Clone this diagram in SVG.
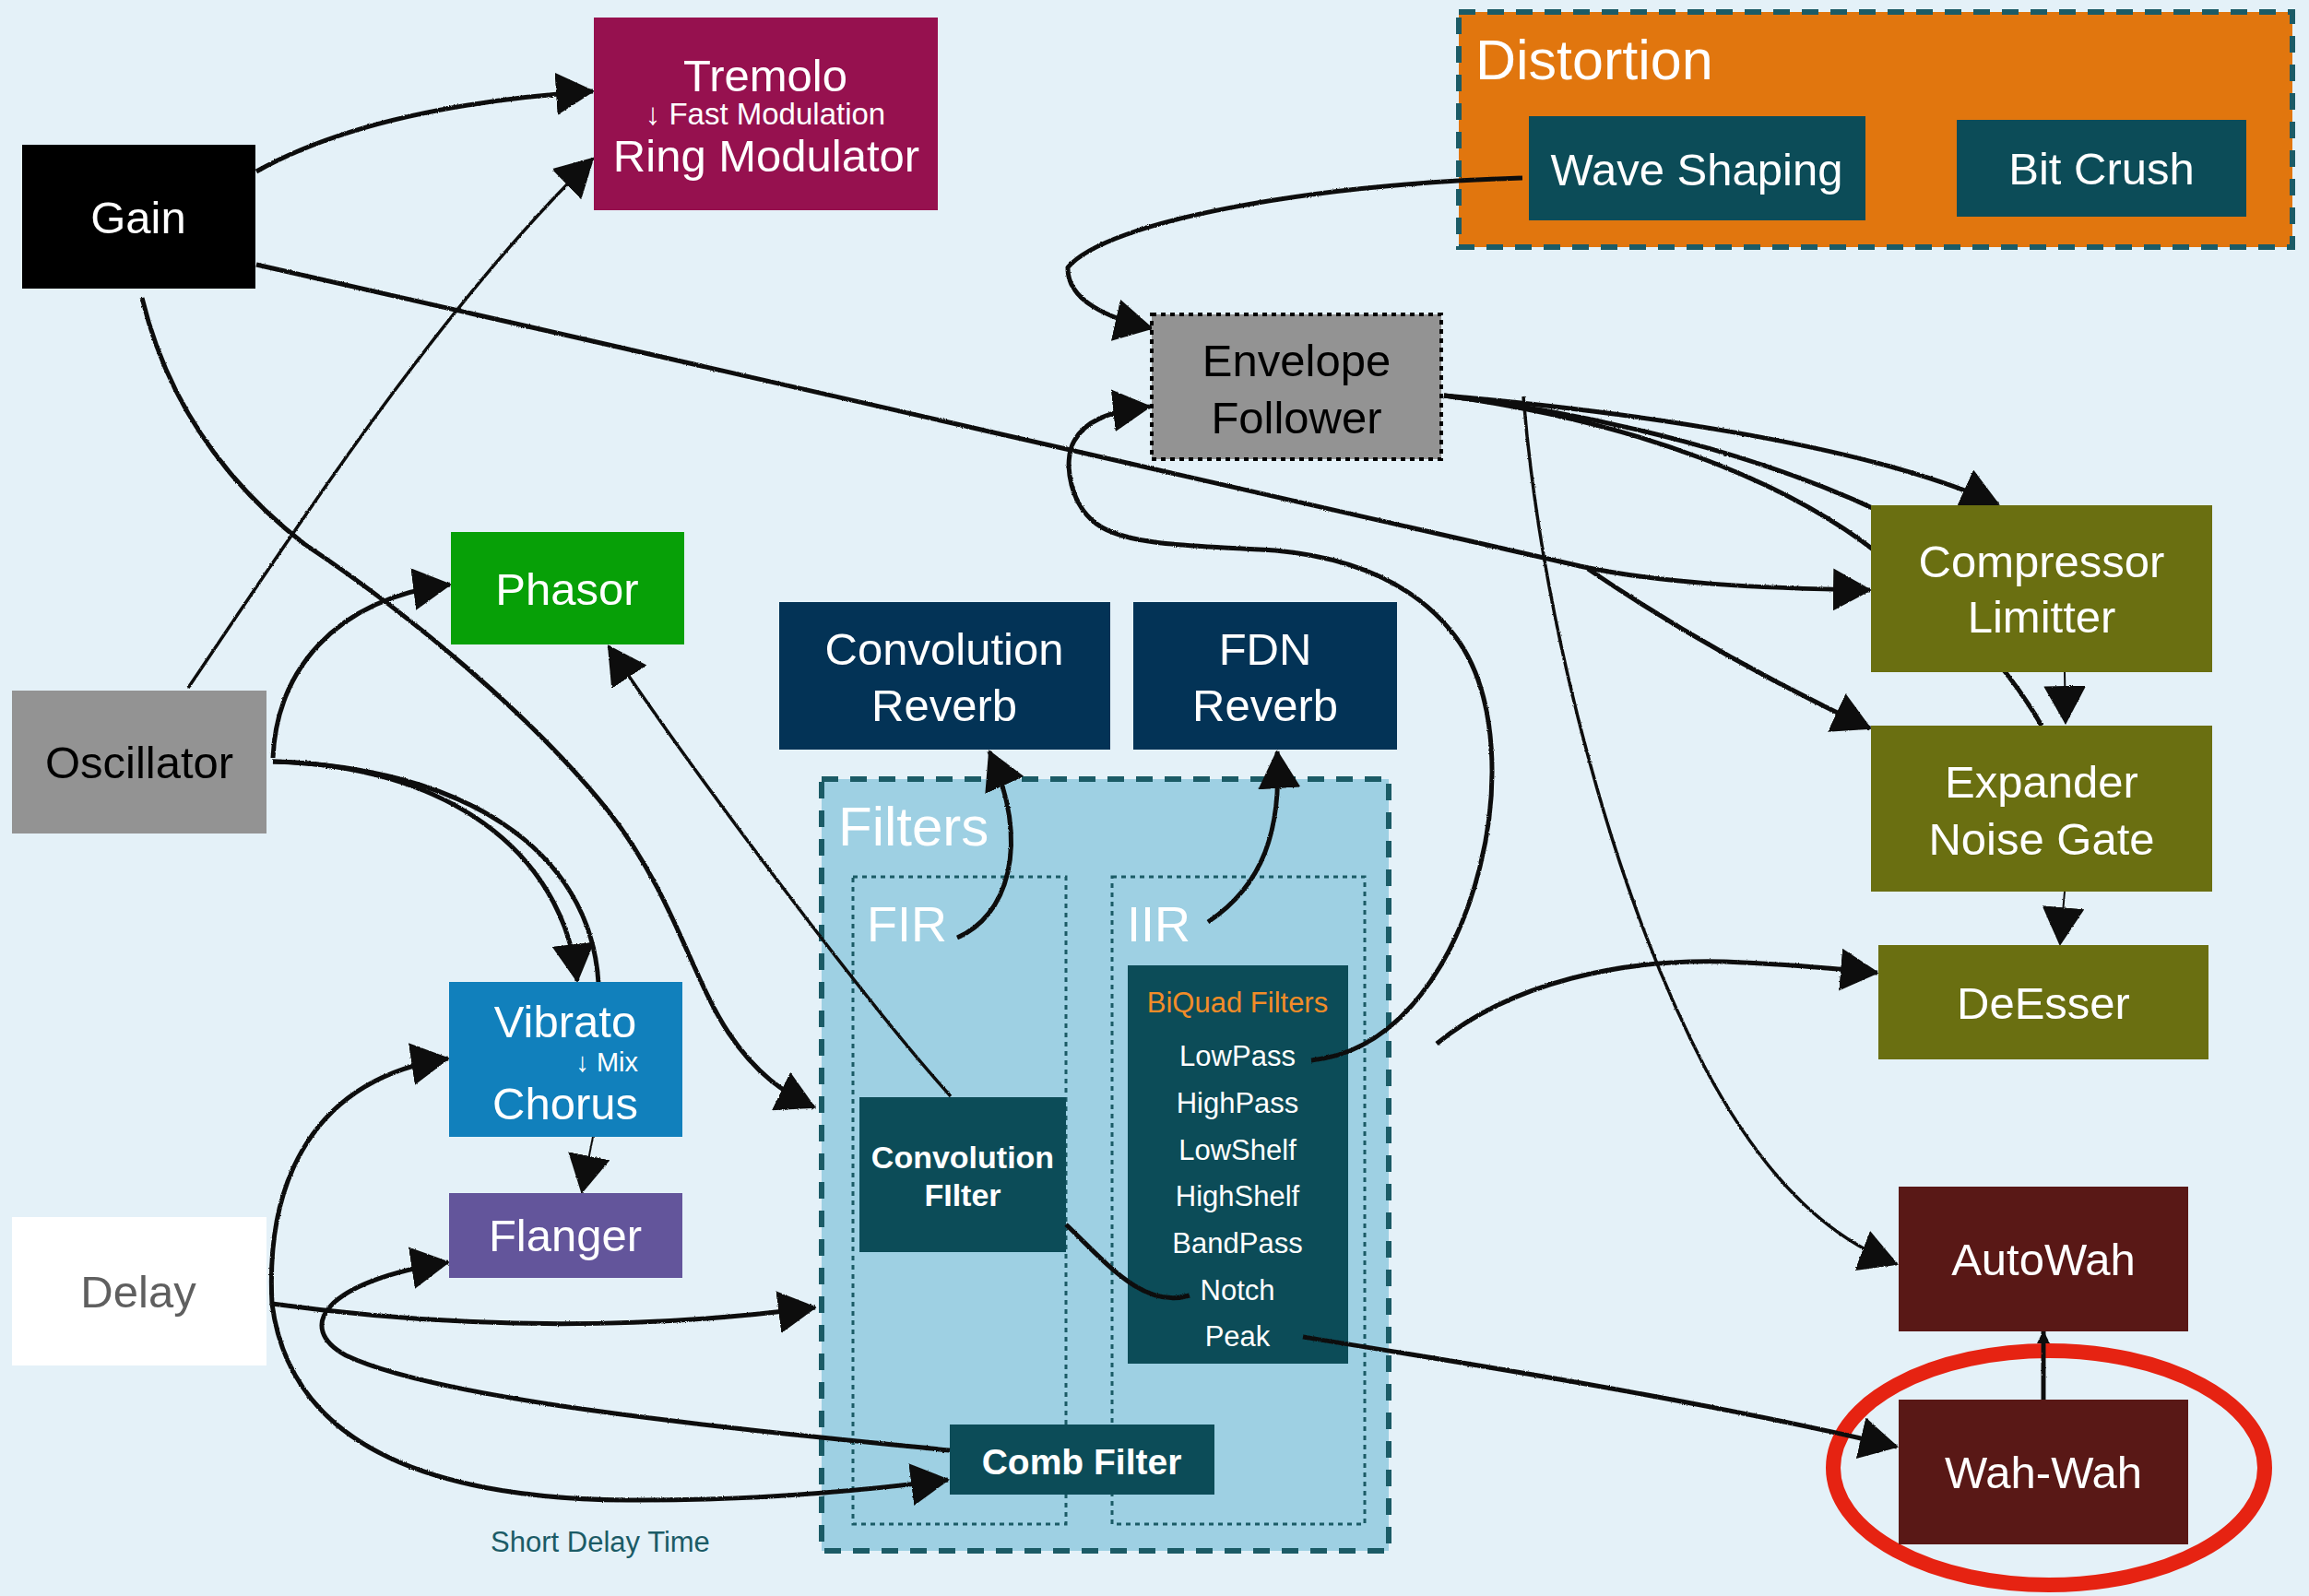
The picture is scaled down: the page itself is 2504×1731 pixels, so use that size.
<svg xmlns="http://www.w3.org/2000/svg" width="2504" height="1731" viewBox="0 0 2504 1731">
<style>
.t{font-family:"Liberation Sans",Arial,Helvetica,sans-serif;font-size:49px;fill:#fff;text-anchor:middle}
.k{fill:#000}
.s{font-size:31px}
.b{font-weight:bold}
.e{fill:none;stroke:#111;stroke-width:5;stroke-linecap:butt;stroke-linejoin:round}
.th{stroke-width:2}
.m{stroke-width:3.5}
.clus{stroke:#1B5B66;stroke-width:6;stroke-dasharray:18 13}
.sub{fill:none;stroke:#1B5B66;stroke-width:3;stroke-dasharray:5 5}
</style>
<defs>
<marker id="ah" markerUnits="userSpaceOnUse" markerWidth="42" markerHeight="46" viewBox="0 0 42 46" refX="40" refY="23" orient="auto">
<path d="M0,0 L42,23 L0,46 Z" fill="#111"/>
</marker>
<marker id="as" markerUnits="userSpaceOnUse" markerWidth="14" markerHeight="14" viewBox="0 0 14 14" refX="13" refY="7" orient="auto">
<path d="M0,0 L14,7 L0,14 Z" fill="#111"/>
</marker>
<filter id="rough" filterUnits="userSpaceOnUse" x="0" y="0" width="2504" height="1731">
<feTurbulence type="fractalNoise" baseFrequency="0.9" numOctaves="1" seed="3" result="n"/>
<feDisplacementMap in="SourceGraphic" in2="n" scale="2.5" xChannelSelector="R" yChannelSelector="G"/>
</filter>
</defs>
<rect x="0" y="0" width="2504" height="1731" fill="#E4F1F8"/>

<g id="cluster-distortion">
<rect class="clus" x="1582" y="13" width="904" height="255" fill="#E1760E"/>
<text class="t" x="1600" y="86" style="font-size:61px;text-anchor:start">Distortion</text>
</g>
<g id="node-waveshaping">
<rect x="1658" y="126" width="365" height="113" fill="#0C4C58"/>
<text class="t" x="1840" y="201">Wave Shaping</text>
</g>
<g id="node-bitcrush">
<rect x="2122" y="130" width="314" height="105" fill="#0C4C58"/>
<text class="t" x="2279" y="200">Bit Crush</text>
</g>

<g id="cluster-filters">
<rect class="clus" x="891" y="845" width="615" height="837" fill="#9ED0E3"/>
<text class="t" x="909" y="917" style="font-size:60px;text-anchor:start">Filters</text>
</g>
<g id="cluster-fir">
<rect class="sub" x="925" y="951" width="231" height="702"/>
<text class="t" x="940" y="1021" style="font-size:54px;text-anchor:start">FIR</text>
</g>
<g id="cluster-iir">
<rect class="sub" x="1206" y="951" width="274" height="702"/>
<text class="t" x="1222" y="1021" style="font-size:54px;text-anchor:start">IIR</text>
</g>
<g id="node-biquad">
<rect x="1223" y="1047" width="239" height="432" fill="#0C4C58"/>
<text class="t s" x="1342" y="1098" style="fill:#F28C28">BiQuad Filters</text>
<text class="t s" x="1342" y="1156">LowPass</text>
<text class="t s" x="1342" y="1207">HighPass</text>
<text class="t s" x="1342" y="1258">LowShelf</text>
<text class="t s" x="1342" y="1308">HighShelf</text>
<text class="t s" x="1342" y="1359">BandPass</text>
<text class="t s" x="1342" y="1410">Notch</text>
<text class="t s" x="1342" y="1460">Peak</text>
</g>
<g id="node-convfilter">
<rect x="932" y="1190" width="224" height="168" fill="#0C4C58"/>
<text class="t b" x="1044" y="1267" style="font-size:34px">Convolution</text>
<text class="t b" x="1044" y="1308" style="font-size:34px">FIlter</text>
</g>
<g id="node-comb">
<rect x="1030" y="1545" width="287" height="76" fill="#0C4C58"/>
<text class="t b" x="1173" y="1599" style="font-size:39px">Comb Filter</text>
</g>

<g id="highlight">
<ellipse cx="2222" cy="1592" rx="234" ry="127" fill="none" stroke="#E62312" stroke-width="16"/>
</g>

<g id="connectors" filter="url(#rough)">
<path class="e" d="M278,186 C360,140 480,110 643,99" marker-end="url(#ah)"/>
<path class="e m" d="M204,746 C330,560 480,330 643,172" marker-end="url(#ah)"/>
<path class="e" d="M278,287 L1718,615 C1800,632 1900,638 2028,640" marker-end="url(#ah)"/>
<path class="e" d="M1722,617 C1800,670 1900,730 2028,790" marker-end="url(#ah)"/>
<path class="e" d="M154,323 C180,430 240,520 330,590 C450,670 580,780 660,880 C730,970 750,1060 790,1120 C820,1165 850,1185 883,1201" marker-end="url(#ah)"/>
<path class="e" d="M296,822 C300,730 360,650 488,634" marker-end="url(#ah)"/>
<path class="e" d="M296,826 C480,830 610,920 626,1064" marker-end="url(#ah)"/>
<path class="e" d="M296,826 C500,832 640,920 649,1066"/>
<path class="e m" d="M1031,1189 C950,1100 760,850 660,701" marker-end="url(#ah)"/>
<path class="e" d="M1156,1328 C1200,1370 1240,1420 1290,1405"/>
<path class="e" d="M1038,1017 C1090,995 1120,920 1073,815" marker-end="url(#ah)"/>
<path class="e" d="M1310,1000 C1370,960 1390,900 1385,815" marker-end="url(#ah)"/>
<path class="e" d="M1651,193 C1420,200 1200,240 1158,290 C1157,325 1200,345 1249,356" marker-end="url(#ah)"/>
<path class="e" d="M1422,1150 C1520,1140 1580,1040 1605,940 C1625,860 1625,760 1583,697 C1540,635 1470,605 1383,597 C1300,592 1230,592 1195,572 C1160,552 1152,500 1165,478 C1176,458 1200,446 1247,441" marker-end="url(#ah)"/>
<path class="e" d="M1566,429 C1750,445 2020,480 2167,547" marker-end="url(#ah)"/>
<path class="e" d="M1566,429 C1740,450 1920,495 2060,565"/>
<path class="e" d="M1566,429 C1760,455 1950,520 2060,620 C2120,670 2170,710 2214,787"/>
<path class="e m" d="M1652,430 C1670,650 1740,950 1850,1160 C1920,1290 1990,1345 2057,1371" marker-end="url(#ah)"/>
<path class="e th" d="M2239,729 L2240,784" marker-end="url(#ah)"/>
<path class="e th" d="M2239,967 L2234,1024" marker-end="url(#ah)"/>
<path class="e" d="M1558,1132 C1640,1065 1760,1040 1870,1043 C1950,1046 2000,1052 2036,1055" marker-end="url(#ah)"/>
<path class="e" d="M1413,1450 C1600,1480 1850,1520 2057,1569" marker-end="url(#ah)"/>
<path class="e" d="M2216,1518 L2216,1444" marker-end="url(#as)"/>
<path class="e" d="M295,1414 C288,1280 340,1170 486,1148" marker-end="url(#ah)"/>
<path class="e" d="M1030,1573 C800,1550 480,1520 375,1470 C320,1440 350,1390 486,1369" marker-end="url(#ah)"/>
<path class="e" d="M295,1414 C500,1442 700,1442 884,1418" marker-end="url(#ah)"/>
<path class="e" d="M295,1414 C315,1570 470,1625 680,1627 C820,1628 950,1615 1028,1605" marker-end="url(#ah)"/>
<path class="e th" d="M643,1233 L631,1293" marker-end="url(#ah)"/>
</g>

<g id="node-gain">
<rect x="24" y="157" width="253" height="156" fill="#000"/>
<text class="t" x="150" y="253">Gain</text>
</g>
<g id="node-tremolo">
<rect x="644" y="19" width="373" height="209" fill="#96114F"/>
<text class="t" x="830" y="99">Tremolo</text>
<text class="t" x="830" y="135" style="font-size:33px">↓ Fast Modulation</text>
<text class="t" x="831" y="186">Ring Modulator</text>
</g>
<g id="node-envelope">
<rect x="1249" y="341" width="314" height="157" fill="#939393" stroke="#000" stroke-width="4" stroke-dasharray="5 5"/>
<text class="t k" x="1406" y="408">Envelope</text>
<text class="t k" x="1406" y="470">Follower</text>
</g>
<g id="node-phasor">
<rect x="489" y="577" width="253" height="122" fill="#07A007"/>
<text class="t" x="615" y="656">Phasor</text>
</g>
<g id="node-oscillator">
<rect x="13" y="749" width="276" height="155" fill="#939393"/>
<text class="t k" x="151" y="844">Oscillator</text>
</g>
<g id="node-convreverb">
<rect x="845" y="653" width="359" height="160" fill="#033356"/>
<text class="t" x="1024" y="721">Convolution</text>
<text class="t" x="1024" y="782">Reverb</text>
</g>
<g id="node-fdnreverb">
<rect x="1229" y="653" width="286" height="160" fill="#033356"/>
<text class="t" x="1372" y="721">FDN</text>
<text class="t" x="1372" y="782">Reverb</text>
</g>
<g id="node-vibrato">
<rect x="487" y="1065" width="253" height="168" fill="#1180BC"/>
<text class="t" x="613" y="1125">Vibrato</text>
<text class="t" x="692" y="1162" style="font-size:29px;text-anchor:end">↓ Mix</text>
<text class="t" x="613" y="1214">Chorus</text>
</g>
<g id="node-flanger">
<rect x="487" y="1294" width="253" height="92" fill="#63559B"/>
<text class="t" x="613" y="1357">Flanger</text>
</g>
<g id="node-delay">
<rect x="13" y="1320" width="276" height="161" fill="#FFFFFF"/>
<text class="t" x="150" y="1418" style="fill:#5F5F5F">Delay</text>
</g>
<g id="node-compressor">
<rect x="2029" y="548" width="370" height="181" fill="#6A6F11"/>
<text class="t" x="2214" y="626">Compressor</text>
<text class="t" x="2214" y="686">Limitter</text>
</g>
<g id="node-expander">
<rect x="2029" y="787" width="370" height="180" fill="#6A6F11"/>
<text class="t" x="2214" y="865">Expander</text>
<text class="t" x="2214" y="927">Noise Gate</text>
</g>
<g id="node-deesser">
<rect x="2037" y="1025" width="358" height="124" fill="#6A6F11"/>
<text class="t" x="2216" y="1105">DeEsser</text>
</g>
<g id="node-autowah">
<rect x="2059" y="1287" width="314" height="157" fill="#591816"/>
<text class="t" x="2216" y="1383">AutoWah</text>
</g>
<g id="node-wahwah">
<rect x="2059" y="1518" width="314" height="157" fill="#591816"/>
<text class="t" x="2216" y="1614">Wah-Wah</text>
</g>
<text class="t s" x="651" y="1683" style="fill:#1B5B66">Short Delay Time</text>
</svg>
